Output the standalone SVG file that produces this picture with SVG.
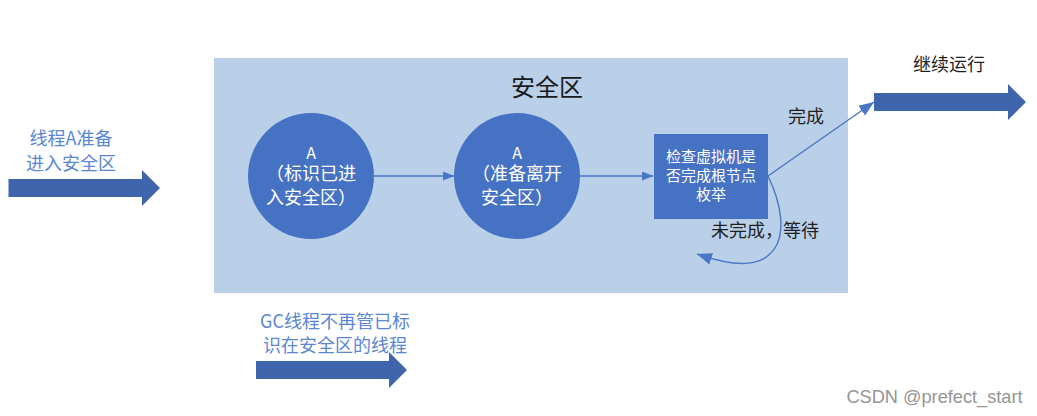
<svg xmlns="http://www.w3.org/2000/svg" width="1037" height="416" viewBox="0 0 1037 416">
<style>
text{font-family:"Noto Sans CJK SC","Noto Sans",sans-serif;text-anchor:middle}
.w{fill:#fff;font-size:18px}
.s{fill:#fff;font-size:15px}
.a{fill:#fff;font-size:16px}
.b{fill:#5b86d0;font-size:18px}
.k{fill:#1f1f1f;font-size:18px}
.fat{fill:#3e64ac}
.node{fill:#4672c4}
.line{fill:none;stroke:#4a76c6;stroke-width:1.4}
</style>
<defs>
<marker id="ah" markerWidth="12" markerHeight="10" refX="11" refY="4.5" orient="auto" markerUnits="userSpaceOnUse"><path d="M0 0L11.500 4.500L0 9Z" fill="#4a76c6"/></marker>
<marker id="ah2" markerWidth="18" markerHeight="14" refX="15" refY="6" orient="auto" markerUnits="userSpaceOnUse"><path d="M0 0L15 6L0 12Z" fill="#4a76c6"/></marker>
</defs>
<rect id="safe-zone" x="214" y="58" width="634" height="235" fill="#bad0e9"/>
<text x="547" y="96" style="font-size:24px;fill:#1a1a1a">安全区</text>
<g id="connectors">
<path class="line" d="M374 176H454" marker-end="url(#ah)"/>
<path class="line" d="M580 176H653" marker-end="url(#ah)"/>
<path class="line" d="M768 176L874 102" marker-end="url(#ah2)"/>
<path class="line" d="M768 176C782 205 785 232 775 248C762 268 735 267 697 254" marker-end="url(#ah2)"/>
</g>
<g id="node-a1"><circle class="node" cx="311" cy="176" r="63"/>
<text class="a" x="311" y="159">A</text>
<text class="w" x="311" y="180">（标识已进</text>
<text class="w" x="311" y="204">入安全区）</text></g>
<g id="node-a2"><circle class="node" cx="517" cy="176" r="63"/>
<text class="a" x="517" y="159">A</text>
<text class="w" x="517" y="180">（准备离开</text>
<text class="w" x="517" y="204">安全区）</text></g>
<g id="node-check"><rect class="node" x="654" y="134" width="114" height="85"/>
<text class="s" x="711" y="162">检查虚拟机是</text>
<text class="s" x="711" y="181">否完成根节点</text>
<text class="s" x="711" y="200">枚举</text></g>
<g id="arrow-enter"><path class="fat" d="M8.500 179H142V170L160 188L142 206V197H8.500Z"/>
<text class="b" x="71" y="145">线程A准备</text><text class="b" x="71" y="170">进入安全区</text></g>
<g id="arrow-gc"><path class="fat" d="M256 361H389V352L407 370L389 388V379H256Z"/>
<text class="b" x="335" y="328">GC线程不再管已标</text><text class="b" x="335" y="352">识在安全区的线程</text></g>
<g id="arrow-continue"><path class="fat" d="M874 93H1008V84L1026 102L1008 120V111H874Z"/>
<text class="k" x="949" y="71">继续运行</text></g>
<text class="k" x="806" y="123">完成</text>
<text class="k" x="765" y="237">未完成，等待</text>
<text x="934.500" y="403" style="font-size:18.200px;fill:#8a8a8a;font-family:'Liberation Sans',sans-serif;opacity:.9">CSDN @prefect_start</text>
</svg>
